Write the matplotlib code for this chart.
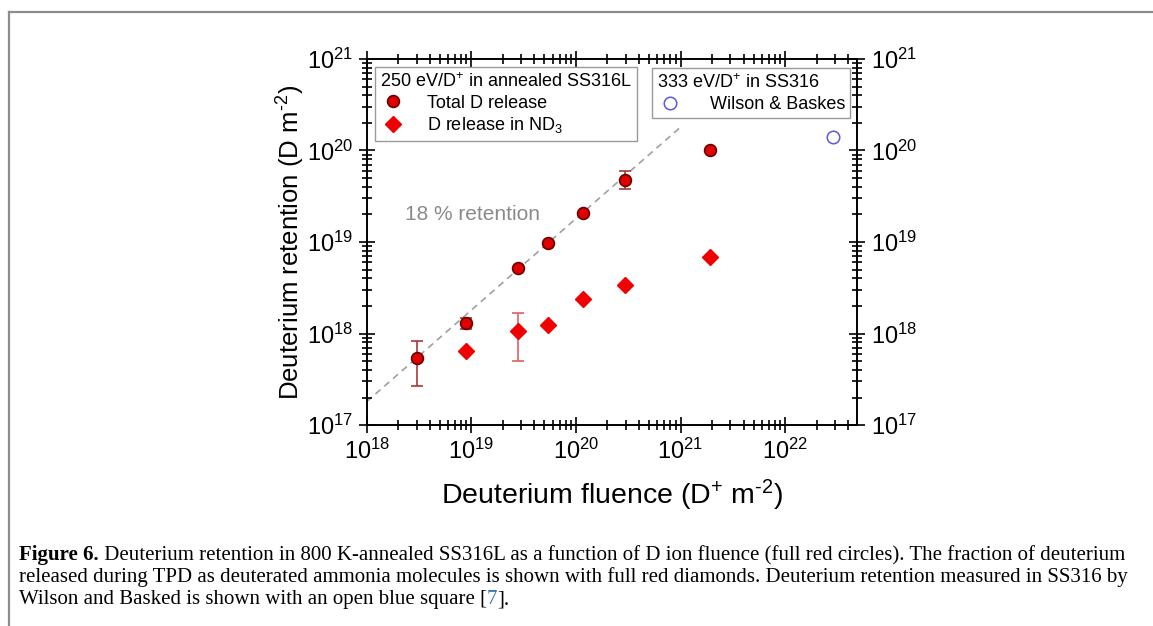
import numpy as np
import matplotlib.pyplot as plt
from matplotlib.lines import Line2D

plt.rcParams.update({
    'font.family': 'Liberation Sans',
    'mathtext.fontset': 'custom',
    'mathtext.rm': 'Liberation Sans',
    'mathtext.it': 'Liberation Sans:italic',
    'mathtext.bf': 'Liberation Sans:bold',
    'axes.unicode_minus': False,
})

# ── Data ─────────────────────────────────────────────────────────────────────
fluence_total = [3.0e18, 9.0e18, 2.8e19, 5.4e19, 1.16e20, 2.93e20, 1.9e21]
retention_total = [5.4e17, 1.31e18, 5.2e18, 9.7e18, 2.1e19, 4.8e19, 1.0e20]
total_err_lo = [2.67e17, 1.12e18, 5.2e18, 9.7e18, 2.1e19, 3.8e19, 1.0e20]
total_err_hi = [8.3e17, 1.49e18, 5.2e18, 9.7e18, 2.1e19, 5.9e19, 1.0e20]

fluence_nd3 = [9.0e18, 2.8e19, 5.4e19, 1.16e20, 2.93e20, 1.9e21]
retention_nd3 = [6.4e17, 1.06e18, 1.24e18, 2.37e18, 3.39e18, 6.85e18]
nd3_err_lo = [6.4e17, 4.97e17, 1.24e18, 2.37e18, 3.39e18, 6.85e18]
nd3_err_hi = [6.4e17, 1.69e18, 1.24e18, 2.37e18, 3.39e18, 6.85e18]

fluence_wb = [2.87e22]
retention_wb = [1.42e20]

RETENTION_FRACTION = 0.18
fit_fluence = [1e18, 1e21]

# caption: each line is a list of (text, weight, colour) pieces
CAPTION_LINES = [
    [('Figure 6.', 'bold', 'black'),
     (' Deuterium retention in 800 K-annealed SS316L as a function of D ion '
      'fluence (full red circles). The fraction of deuterium', 'normal', 'black')],
    [('released during TPD as deuterated ammonia molecules is shown with full '
      'red diamonds. Deuterium retention measured in SS316 by', 'normal', 'black')],
    [('Wilson and Basked is shown with an open blue square [', 'normal', 'black'),
     ('7', 'normal', '#2a7ab8'),
     ('].', 'normal', 'black')],
]

# ── Figure ───────────────────────────────────────────────────────────────────
fig = plt.figure(figsize=(11.53, 6.26), dpi=100)
ax = fig.add_axes([0.318, 0.321, 0.4256, 0.5848])

ax.set_xscale('log')
ax.set_yscale('log')
ax.set_xlim(1e18, 4.9e22)
ax.set_ylim(1e17, 1e21)

# 18 % retention guide
fit_fluence = np.array(fit_fluence)
ax.plot(fit_fluence, RETENTION_FRACTION * fit_fluence, color='#a0a0a0',
        linestyle=(0, (4, 3)), linewidth=1.2, zorder=1)
ax.text(0.078, 0.574, '18 % retention', transform=ax.transAxes,
        color='#8a8a8a', fontsize=15, va='center', ha='left')

y_t = np.array(retention_total)
ax.errorbar(fluence_total, y_t,
            yerr=[y_t - np.array(total_err_lo), np.array(total_err_hi) - y_t],
            fmt='none', ecolor='#a83838', elinewidth=1.2, capsize=4,
            capthick=1.2, zorder=2)
h_total, = ax.plot(fluence_total, retention_total, 'o', color='#e00000',
                   markeredgecolor='#6a0000', markeredgewidth=1.2,
                   markersize=8.5, linestyle='none', zorder=3)

y_n = np.array(retention_nd3)
ax.errorbar(fluence_nd3, y_n,
            yerr=[y_n - np.array(nd3_err_lo), np.array(nd3_err_hi) - y_n],
            fmt='none', ecolor='#e06060', elinewidth=1.2, capsize=4,
            capthick=1.2, zorder=2)
h_nd3, = ax.plot(fluence_nd3, retention_nd3, 'D', color='#f00000',
                 markeredgecolor='#f00000', markersize=8.5,
                 linestyle='none', zorder=3)

h_wb, = ax.plot(fluence_wb, retention_wb, 'o', markerfacecolor='none',
                markeredgecolor='#5a5ae0', markeredgewidth=1.1,
                markersize=9, linestyle='none', zorder=3)

# Axes styling: crossing ticks on all four sides, labels left/right/bottom
for sp in ax.spines.values():
    sp.set_linewidth(1.4)
ax.tick_params(which='both', direction='inout', top=True, right=True,
               labelright=True, labeltop=False, width=1.2,
               labelsize=17, pad=4)
ax.tick_params(which='major', length=11)
ax.tick_params(which='minor', length=7)

# \text{-} keeps a plain hyphen (as in the original) instead of a math minus
ax.set_xlabel(r'Deuterium fluence (D$^{+}$ m$^{\text{-}2}$)', fontsize=20.5,
              labelpad=10)
ax.set_ylabel(r'Deuterium retention (D m$^{\text{-}2}$)', fontsize=18.5,
              labelpad=0)

# Legends
leg_kw = dict(loc='upper left', borderaxespad=0, fancybox=False, framealpha=1,
              edgecolor='#9a9a9a', fontsize=13, title_fontsize=13,
              borderpad=0.3, labelspacing=0.2, handlelength=1.4)
leg1 = ax.legend([h_total, h_nd3], ['Total D release', 'D release in ND$_3$'],
                 title='250 eV/D$^{+}$ in annealed SS316L',
                 bbox_to_anchor=(0.017, 0.978), handletextpad=1.2, **leg_kw)
leg1._legend_box.align = 'left'
leg1.get_frame().set_linewidth(1.0)
ax.add_artist(leg1)

leg2 = ax.legend([h_wb], ['Wilson & Baskes'],
                 title='333 eV/D$^{+}$ in SS316',
                 bbox_to_anchor=(0.581, 0.975), handletextpad=1.5, **leg_kw)
leg2._legend_box.align = 'left'
leg2.get_frame().set_linewidth(1.0)

# Page-style border (top and left)
fig.add_artist(Line2D([9 / 1153, 1.0], [1 - 12 / 626, 1 - 12 / 626],
                      transform=fig.transFigure, color='#8c8c8c', linewidth=1.6))
fig.add_artist(Line2D([9 / 1153, 9 / 1153], [0.0, 1 - 12 / 626],
                      transform=fig.transFigure, color='#8c8c8c', linewidth=1.6))

# Caption, drawn piece by piece so bold / coloured parts share a baseline
fig.canvas.draw()
renderer = fig.canvas.get_renderer()
W = fig.bbox.width
baselines = [560, 582, 604]
for pieces, yb in zip(CAPTION_LINES, baselines):
    xpix = 19
    for txt, weight, col in pieces:
        t = fig.text(xpix / W, 1 - yb / 626, txt, family='Liberation Serif',
                     fontsize=15, weight=weight, color=col, va='baseline')
        xpix = t.get_window_extent(renderer).x1

fig.savefig('out.png', dpi=100)
